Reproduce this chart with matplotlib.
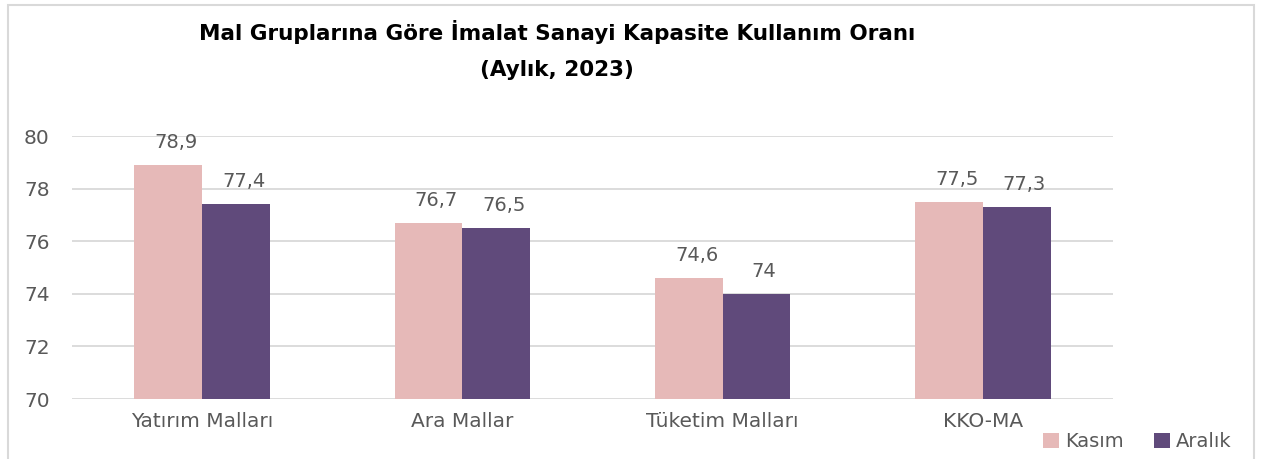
import matplotlib
matplotlib.use("Agg")
import matplotlib.pyplot as plt
import numpy as np
from matplotlib.patches import Rectangle

categories = ["Yatırım Malları", "Ara Mallar", "Tüketim Malları", "KKO-MA"]
kasim = [78.9, 76.7, 74.6, 77.5]
aralik = [77.4, 76.5, 74.0, 77.3]
series_names = ["Kasım", "Aralık"]

pink = "#E6B9B8"
purple = "#604A7B"
grey = "#595959"

fig = plt.figure(figsize=(12.61, 4.59), dpi=100)
ax = fig.add_axes([0.0571, 0.1307, 0.8255, 0.573])

x = np.arange(len(categories))
w = 0.26
b1 = ax.bar(x - w / 2, np.array(kasim) - 70, w, bottom=70, color=pink, label=series_names[0])
b2 = ax.bar(x + w / 2, np.array(aralik) - 70, w, bottom=70, color=purple, label=series_names[1])


def fmt(v):
    return str(int(v)) if v == int(v) else str(v).replace(".", ",")


for bars, vals in [(b1, kasim), (b2, aralik)]:
    for r, v in zip(bars, vals):
        ax.text(r.get_x() + r.get_width() / 2 + 0.03, v + 0.5, fmt(v), ha="center", va="bottom",
                fontsize=14, color=grey)

ax.set_xlim(-0.5, 3.5)
ax.set_ylim(70, 80)
ax.set_yticks(range(70, 81, 2))
ax.set_xticks(x)
ax.set_xticklabels(categories)
ax.tick_params(axis="both", length=0, labelsize=14.5, labelcolor=grey)
ax.tick_params(axis="y", pad=16)
ax.tick_params(axis="x", pad=9)
ax.grid(axis="y", color="#D9D9D9", linewidth=1.3)
ax.set_axisbelow(True)
for s in ax.spines.values():
    s.set_visible(False)

fig.text(0.442, 0.93, "Mal Gruplarına Göre İmalat Sanayi Kapasite Kullanım Oranı",
         ha="center", va="center", fontsize=15.5, fontweight="bold", color="black")
fig.text(0.442, 0.848, "(Aylık, 2023)", ha="center", va="center", fontsize=15.5,
         fontweight="bold", color="black")

fig.legend(loc="center", bbox_to_anchor=(0.902, 0.038), ncol=2, frameon=False,
           fontsize=14, handlelength=0.8, handleheight=0.8, handletextpad=0.3,
           columnspacing=1.6, labelcolor=grey)

fig.patches.append(Rectangle((0.0065, -0.02), 0.988, 1.01, transform=fig.transFigure,
                             fill=False, edgecolor="#D9D9D9", linewidth=1.5))

fig.savefig("out.png", dpi=100)
